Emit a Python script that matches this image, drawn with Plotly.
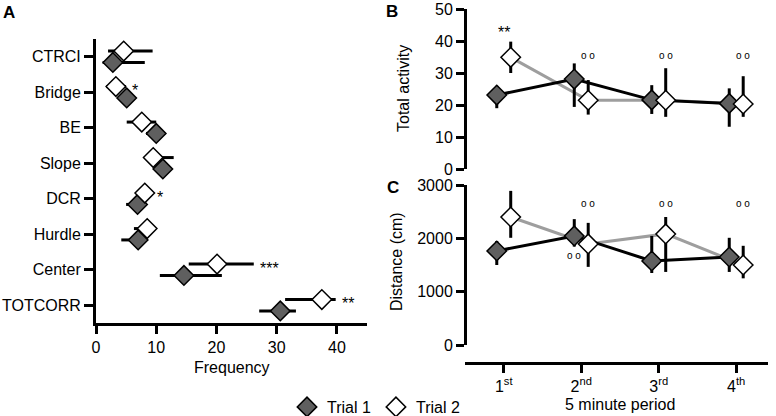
import plotly.graph_objects as go

# ---------------- data ----------------
categories = ["CTRCI", "Bridge", "BE", "Slope", "DCR", "Hurdle", "Center", "TOTCORR"]
freq_t1 = [2.8, 5.1, 10.0, 11.1, 6.9, 7.0, 14.6, 30.6]
freq_t1_minus = [1.7, 0.9, 1.7, 1.0, 1.9, 2.8, 4.0, 3.5]
freq_t1_plus = [5.3, 0.9, 1.5, 1.0, 1.5, 1.3, 6.3, 2.6]
freq_t2 = [4.6, 3.3, 7.6, 9.5, 8.1, 8.5, 20.1, 37.5]
freq_t2_minus = [2.6, 1.6, 2.5, 1.5, 1.0, 2.2, 4.7, 6.1]
freq_t2_plus = [4.8, 1.7, 2.4, 3.4, 1.0, 1.0, 6.1, 2.3]
freq_stars = {"Bridge": "*", "DCR": "*", "Center": "***", "TOTCORR": "**"}

periods = ["1<sup>st</sup>", "2<sup>nd</sup>", "3<sup>rd</sup>", "4<sup>th</sup>"]
act_t1 = [23.1, 28.1, 21.6, 20.5]
act_t1_plus = [2.9, 4.9, 4.6, 4.7]
act_t1_minus = [4.1, 8.7, 4.4, 7.3]
act_t2 = [34.9, 21.5, 21.5, 20.3]
act_t2_plus = [4.9, 6.3, 10.0, 8.7]
act_t2_minus = [4.9, 4.5, 5.2, 4.0]

dist_t1 = [1763, 2045, 1576, 1650]
dist_t1_plus = [187, 315, 469, 360]
dist_t1_minus = [263, 200, 226, 280]
dist_t2 = [2400, 1895, 2083, 1500]
dist_t2_plus = [490, 395, 317, 360]
dist_t2_minus = [390, 430, 713, 250]

# significance labels: (text, period index, trial)
act_sig = [("**", 0, None), ("o o", 1, 2), ("o o", 2, 2), ("o o", 3, 2)]
dist_sig = [("**", 0, None), ("o o", 1, 2), ("o o", 2, 2), ("o o", 3, 2), ("o o", 1, 1)]

# ---------------- style ----------------
W, H = 776, 416
FONT = "Liberation Sans, Arial, sans-serif"
DARK = "#5f5f5f"
GRAYLINE = "#9e9e9e"
MS = 15
CAT_OFF = 0.16
PER_OFF = 0.09

def px_x(p):
    return p / W

def px_y(p):
    return 1 - p / H

fig = go.Figure()

# ---------- Panel A ----------
yi = list(range(len(categories)))
y_t1 = [i + CAT_OFF for i in yi]
y_t2 = [i - CAT_OFF for i in yi]

fig.add_trace(go.Scatter(
    x=freq_t1, y=y_t1, mode="markers", name="Trial 1", xaxis="x", yaxis="y",
    marker=dict(symbol="diamond", size=MS, color=DARK, line=dict(color="black", width=1.5)),
    error_x=dict(type="data", array=freq_t1_plus, arrayminus=freq_t1_minus,
                 color="black", thickness=3, width=0),
    showlegend=True))
fig.add_trace(go.Scatter(
    x=freq_t2, y=y_t2, mode="markers", name="Trial 2", xaxis="x", yaxis="y",
    marker=dict(symbol="diamond", size=MS, color="white", line=dict(color="black", width=1.5)),
    error_x=dict(type="data", array=freq_t2_plus, arrayminus=freq_t2_minus,
                 color="black", thickness=3, width=0),
    showlegend=True))

# ---------- Panels B & C ----------
xp = [i + 1 for i in range(len(periods))]
x_t1 = [v - PER_OFF for v in xp]
x_t2 = [v + PER_OFF for v in xp]

for yax, t1, t1p, t1m, t2, t2p, t2m in [
        ("y2", act_t1, act_t1_plus, act_t1_minus, act_t2, act_t2_plus, act_t2_minus),
        ("y3", dist_t1, dist_t1_plus, dist_t1_minus, dist_t2, dist_t2_plus, dist_t2_minus)]:
    fig.add_trace(go.Scatter(x=x_t2, y=t2, mode="lines", xaxis="x2", yaxis=yax,
                             line=dict(color=GRAYLINE, width=3), showlegend=False))
    fig.add_trace(go.Scatter(x=x_t1, y=t1, mode="lines", xaxis="x2", yaxis=yax,
                             line=dict(color="black", width=3), showlegend=False))
    fig.add_trace(go.Scatter(
        x=x_t1, y=t1, mode="markers", xaxis="x2", yaxis=yax, showlegend=False,
        marker=dict(symbol="diamond", size=MS, color=DARK, line=dict(color="black", width=1.5)),
        error_y=dict(type="data", array=t1p, arrayminus=t1m, color="black", thickness=3, width=0)))
    fig.add_trace(go.Scatter(
        x=x_t2, y=t2, mode="markers", xaxis="x2", yaxis=yax, showlegend=False,
        marker=dict(symbol="diamond", size=MS, color="white", line=dict(color="black", width=1.5)),
        error_y=dict(type="data", array=t2p, arrayminus=t2m, color="black", thickness=3, width=0)))

# ---------- annotations ----------
ann = []
for cat, txt in freq_stars.items():
    i = categories.index(cat)
    ann.append(dict(x=freq_t2[i] + freq_t2_plus[i], y=y_t2[i], xref="x", yref="y",
                    text=txt, showarrow=False, xanchor="left", yanchor="middle",
                    xshift=4, yshift=-4, font=dict(size=16, color="black")))

def sig_ann(sig, yref, star_y, oo_y_top, oo_y_low):
    out = []
    for txt, i, trial in sig:
        if trial is None:
            x, y, sz = xp[i], star_y, 16
        elif trial == 2:
            x, y, sz = x_t2[i], oo_y_top, 10
        else:
            x, y, sz = x_t1[i], oo_y_low, 10
        out.append(dict(x=x, y=y, xref="x2", yref=yref, text=txt, showarrow=False,
                        xanchor="center", yanchor="middle", font=dict(size=sz, color="black")))
    return out

ann += sig_ann(act_sig, "y2", 42.8, 35.6, None)
ann += sig_ann(dist_sig, "y3", 3077, 2660, 1670)

# panel letters
for t, x, y in [("A", 9, 12), ("B", 392, 11), ("C", 393, 188)]:
    ann.append(dict(x=px_x(x), y=px_y(y), xref="paper", yref="paper", text=f"<b>{t}</b>",
                    showarrow=False, xanchor="center", yanchor="middle",
                    font=dict(size=17, color="black")))

# axis titles
for txt, x, y, ang in [("Frequency", 232, 367, 0), ("5 minute period", 620, 404, 0),
                       ("Total activity", 403, 89, -90), ("Distance (cm)", 396, 262, -90)]:
    ann.append(dict(x=px_x(x), y=px_y(y), xref="paper", yref="paper", text=txt,
                    showarrow=False, xanchor="center", yanchor="middle", textangle=ang,
                    font=dict(size=16, color="black")))

axis_common = dict(showgrid=False, zeroline=False, showline=True, linecolor="black",
                   linewidth=3, ticks="outside", tickwidth=3, tickcolor="black",
                   automargin=False, tickfont=dict(size=16, color="black"))

fig.update_layout(
    template="none",
    width=W, height=H,
    margin=dict(l=0, r=0, t=0, b=0, pad=0, autoexpand=False),
    paper_bgcolor="white", plot_bgcolor="white",
    font=dict(family=FONT, size=16, color="black"),
    xaxis=dict(domain=[px_x(96), px_x(367)], range=[0, 45], tickvals=[0, 10, 20, 30, 40],
               anchor="y", ticklen=8, **axis_common),
    yaxis=dict(domain=[px_y(323), px_y(39)], range=[7.5, -0.5], tickvals=yi,
               ticktext=categories, anchor="x", ticklen=9, **axis_common),
    xaxis2=dict(domain=[px_x(465), px_x(768)], range=[0.5, 4.41], tickvals=xp,
                ticktext=periods, anchor="free", position=px_y(363), ticklen=8,
                **axis_common),
    yaxis2=dict(domain=[px_y(169), px_y(9)], range=[0, 50], tickvals=[0, 10, 20, 30, 40, 50],
                anchor="free", position=px_x(465), ticklen=8, **axis_common),
    yaxis3=dict(domain=[px_y(345), px_y(185)], range=[0, 3000],
                tickvals=[0, 1000, 2000, 3000], anchor="free", position=px_x(465),
                ticklen=8, **axis_common),
    legend=dict(orientation="h", x=px_x(287), y=px_y(407), xanchor="left", yanchor="middle",
                font=dict(size=16, color="black"), bgcolor="rgba(0,0,0,0)", itemwidth=30,
                borderwidth=0),
    annotations=ann,
)

post = ("var s=document.createElement('style');"
        "s.textContent='html,body{margin:0;padding:0;overflow:hidden;}';"
        "document.head.appendChild(s);")
fig.write_html("out.html", config={"displayModeBar": False}, post_script=post)
